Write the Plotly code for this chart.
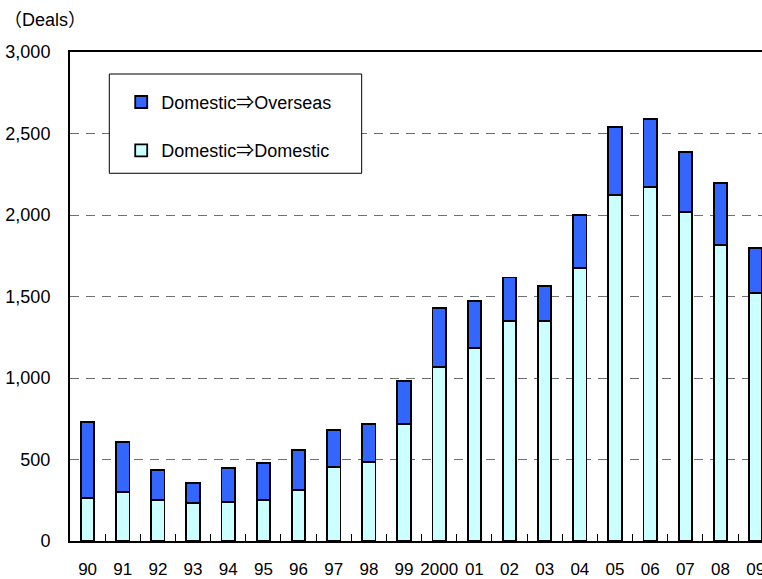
import plotly.graph_objects as go

# Number of deals per year, split by destination
years = ["90", "91", "92", "93", "94", "95", "96", "97", "98", "99",
         "2000", "01", "02", "03", "04", "05", "06", "07", "08", "09"]
domestic_to_domestic = [264, 300, 251, 233, 241, 251, 313, 454, 487, 718,
                        1066, 1186, 1350, 1350, 1675, 2121, 2172, 2020, 1816, 1521]
total_deals = [730, 609, 437, 354, 446, 477, 558, 679, 720, 983,
               1431, 1472, 1616, 1564, 2000, 2542, 2591, 2387, 2194, 1798]
domestic_to_overseas = [t - d for t, d in zip(total_deals, domestic_to_domestic)]

y_ticks = [0, 500, 1000, 1500, 2000, 2500, 3000]

FONT = "Liberation Sans, Arial, Noto Sans CJK JP, sans-serif"
line_style = dict(color="black", width=1.8)

fig = go.Figure()
fig.add_trace(go.Bar(
    x=years, y=domestic_to_domestic, name="Domestic⇒Domestic",
    marker=dict(color="#CCFFFF", line=line_style),
    width=0.38, legendgroup="dd", legendrank=2,
))
fig.add_trace(go.Bar(
    x=years, y=domestic_to_overseas, name="Domestic⇒Overseas",
    marker=dict(color="#3366FF", line=line_style),
    width=0.38, legendgroup="do", legendrank=1,
))

fig.update_layout(
    width=762, height=579,
    margin=dict(l=70, r=0, t=52, b=38),
    barmode="stack",
    plot_bgcolor="white",
    paper_bgcolor="white",
    font=dict(family=FONT, size=18, color="black"),
    showlegend=True,
    legend=dict(
        x=0.074, y=0.935, xanchor="left", yanchor="top",
        traceorder="grouped", tracegroupgap=22,
        bgcolor="rgba(0,0,0,0)", borderwidth=0,
        font=dict(family=FONT, size=18, color="black"),
    ),
    shapes=[dict(
        type="rect", xref="paper", yref="paper",
        x0=0.0568, x1=0.4215, y0=0.752, y1=0.955,
        line=dict(color="black", width=1), fillcolor="white", layer="above",
    )],
    annotations=[dict(
        text="（Deals）", xref="paper", yref="paper",
        x=-0.098, y=1.065, xanchor="left", yanchor="middle",
        showarrow=False, font=dict(family=FONT, size=18, color="black"),
    )],
)

fig.update_xaxes(
    type="category", range=[-0.5, 19.18], tickangle=0, automargin=False,
    showline=True, linecolor="black", linewidth=2, mirror=True,
    ticks="inside", tickson="boundaries", ticklen=7, tickcolor="black", tickwidth=1,
    ticklabelstandoff=12, tickfont=dict(size=17), showgrid=False,
)
fig.update_yaxes(
    range=[0, 3000], tickvals=y_ticks, tickformat=",d", automargin=False,
    showline=True, linecolor="black", linewidth=2, mirror=False,
    showgrid=True, gridcolor="#707070", gridwidth=1, griddash="9px,7px",
    zeroline=False, ticks="", ticklabelstandoff=14,
)

fig.write_html("out.html")
